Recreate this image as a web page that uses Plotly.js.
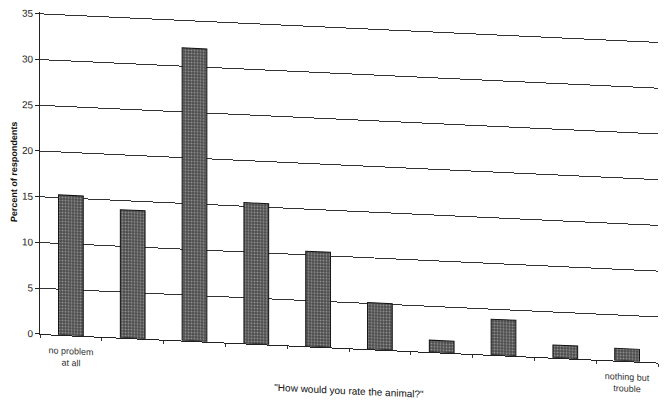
<!DOCTYPE html>
<html>
<head>
<meta charset="utf-8">
<script src="https://cdn.plot.ly/plotly-3.0.1.min.js"></script>
<style>
  html, body { margin: 0; padding: 0; background: #fff; overflow: hidden; }
  #chart { width: 664px; height: 401px; transform: skewY(2.65deg); transform-origin: 40px 0; }
</style>
</head>
<body>
<div id="chart"></div>
<script>
// Data (percent of respondents per rating step)
const categories = ["no problem at all", "2", "3", "4", "5", "6", "7", "8", "9", "nothing but trouble"];
const tickLabels = ["no problem<br>at all", "", "", "", "", "", "", "", "", "nothing but<br>trouble"];
const percents = [15.3, 14.0, 32.0, 15.4, 10.4, 5.1, 1.3, 3.9, 1.4, 1.35];
const yTicks = [0, 5, 10, 15, 20, 25, 30, 35];

const trace = {
  type: "bar",
  x: categories,
  y: percents,
  width: 0.4,
  marker: {
    color: "#4a4a4a",
    line: { color: "#111", width: 1 },
    pattern: { shape: ".", fgcolor: "#dcdcdc", bgcolor: "#4a4a4a", size: 3, solidity: 0.4, fillmode: "overlay" }
  },
  hoverinfo: "skip"
};

const layout = {
  width: 664,
  height: 401,
  margin: { l: 40, r: 6, t: 12, b: 67 },
  paper_bgcolor: "#fff",
  plot_bgcolor: "#fff",
  showlegend: false,
  font: { family: "Liberation Sans, Arial, sans-serif", color: "#222", size: 10 },
  xaxis: {
    type: "category",
    categoryorder: "array",
    categoryarray: categories,
    tickmode: "array",
    tickvals: categories,
    ticktext: tickLabels,
    tickson: "boundaries",
    ticks: "outside",
    ticklen: 3,
    tickcolor: "#333",
    ticklabelstandoff: 7,
    showline: true,
    linecolor: "#222",
    linewidth: 1,
    showgrid: false,
    tickfont: { size: 9, color: "#333" },
    title: { text: "\"How would you rate the animal?\"", font: { size: 10, color: "#111" }, standoff: 7 }
  },
  yaxis: {
    range: [0, 35.2],
    tickmode: "array",
    tickvals: yTicks,
    ticks: "outside",
    ticklen: 4,
    tickcolor: "#222",
    showline: true,
    linecolor: "#222",
    linewidth: 1,
    showgrid: true,
    gridcolor: "#333",
    gridwidth: 1,
    zeroline: false,
    tickfont: { size: 10, color: "#222" },
    title: { text: "<b>Percent of respondents</b>", font: { size: 9, color: "#111" }, standoff: 2 }
  },
  bargap: 0.6
};

Plotly.newPlot("chart", [trace], layout, { staticPlot: true, displayModeBar: false });
</script>
</body>
</html>
